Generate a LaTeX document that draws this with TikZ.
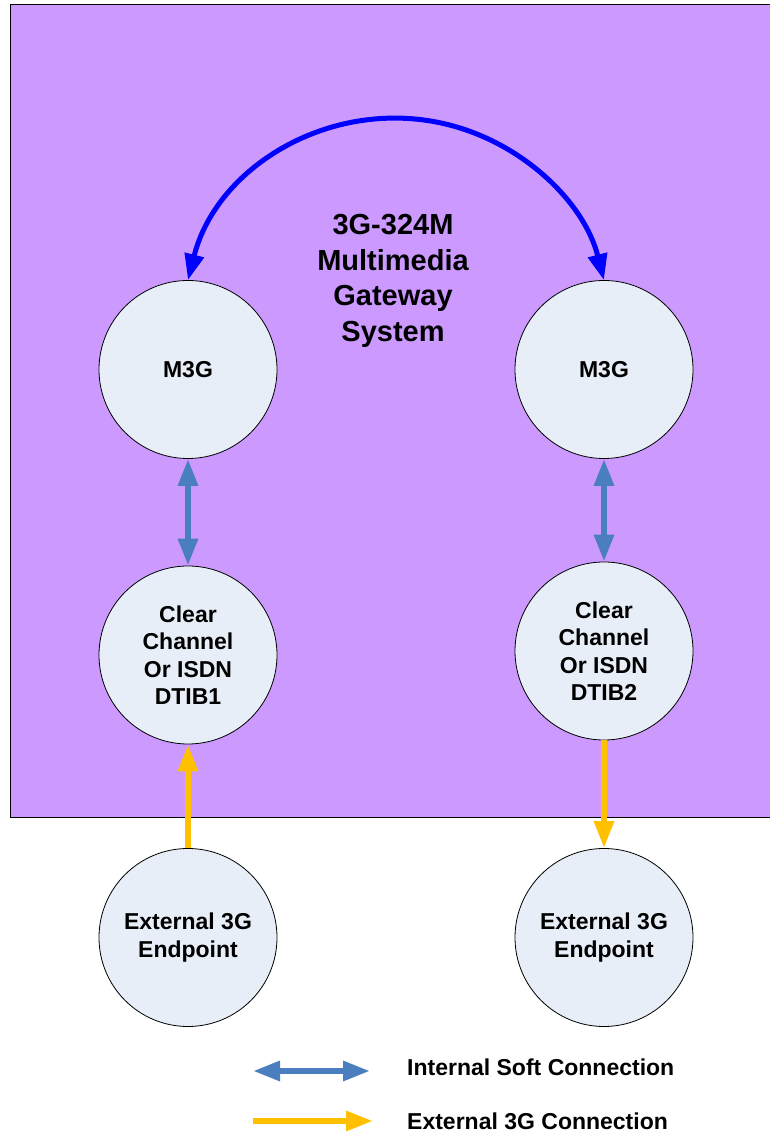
\documentclass[tikz,border=0pt]{standalone}
\usepackage{fontspec}
\setmainfont{Liberation Sans}
\usetikzlibrary{arrows.meta}
\definecolor{bgpurple}{HTML}{CC99FF}
\definecolor{circfill}{HTML}{E8EEF8}
\definecolor{softblue}{HTML}{4A7EBF}
\definecolor{arcblue}{HTML}{0000FF}
\definecolor{extyellow}{HTML}{FFC000}
\tikzset{
  unit/.style={circle, draw=black, line width=0.8pt, fill=circfill, minimum size=178pt, inner sep=0pt,
    align=center, font=\fontsize{23}{27.5}\selectfont\bfseries},
  softarrow/.style={draw=softblue, line width=6pt, {Triangle[length=27pt,width=19pt]}-{Triangle[length=27pt,width=19pt]}},
  extarrow/.style={draw=extyellow, line width=6pt, -{Triangle[length=27pt,width=19pt]}},
  bigarc/.style={draw=arcblue, line width=5pt, {Triangle[length=26pt,width=19pt]}-{Triangle[length=26pt,width=19pt]}},
  legendtext/.style={anchor=west, inner sep=0pt, font=\fontsize{23}{26.7}\selectfont\bfseries},
}
\begin{document}
\begin{tikzpicture}[x=1pt,y=1pt]
\useasboundingbox (0,0) rectangle (770,1133);
\fill[white] (0,0) rectangle (770,1133);
\draw[fill=bgpurple, line width=1pt] (10,315) rectangle (780,1128);
\node[align=center, font=\fontsize{29}{35.5}\selectfont\bfseries] (title) at (393,852) {3G-324M\\Multimedia\\Gateway\\System};
\node[unit] (m3gL) at (188,763.5) {M3G};
\node[unit] (m3gR) at (604,763.5) {M3G};
\node[unit] (dtibL) at (188,478) {Clear\\Channel\\Or ISDN\\DTIB1};
\node[unit] (dtibR) at (604,482) {Clear\\Channel\\Or ISDN\\DTIB2};
\node[unit] (extL) at (188,195.5) {External 3G\\Endpoint};
\node[unit] (extR) at (604,195.5) {External 3G\\Endpoint};
\draw[bigarc] (m3gL.north) arc[start angle=165.8, end angle=14.2, radius=214.5];
\draw[softarrow] (m3gL) -- (dtibL);
\draw[softarrow] (m3gR) -- (dtibR);
\draw[extarrow] (extL) -- (dtibL);
\draw[extarrow] (dtibR) -- (extR);
\coordinate (l1a) at (253,62);
\coordinate (l1b) at (370,62);
\coordinate (l2a) at (253,12);
\coordinate (l2b) at (373,12);
\draw[softarrow] (l1a) -- (l1b);
\draw[extarrow] (l2a) -- (l2b);
\node[legendtext] (lt1) at (407,66) {Internal Soft Connection};
\node[legendtext] (lt2) at (407,12) {External 3G Connection};
\end{tikzpicture}
\end{document}
